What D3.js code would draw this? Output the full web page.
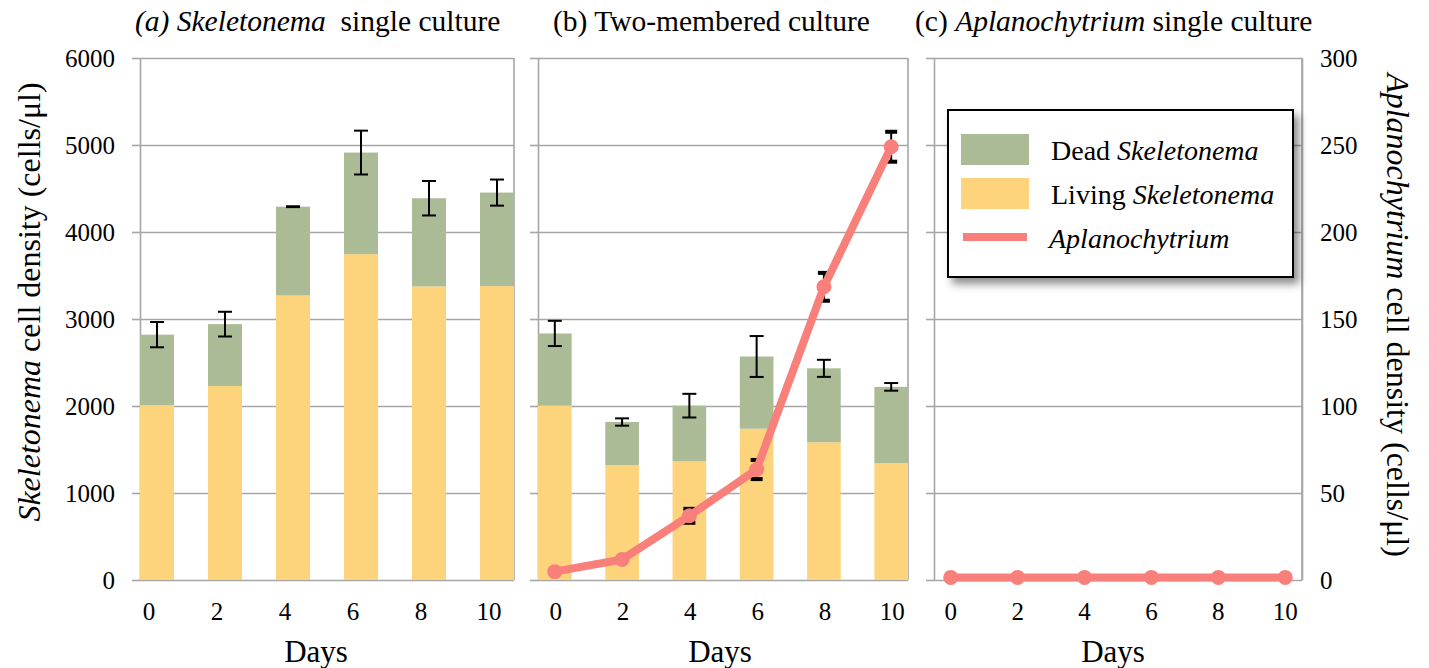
<!DOCTYPE html>
<html>
<head>
<meta charset="utf-8">
<script src="https://cdn.jsdelivr.net/npm/d3@7/dist/d3.min.js"></script>
<style>
  html, body { margin: 0; padding: 0; background: #fff; }
</style>
</head>
<body>
<svg id="chart" width="1429" height="668"></svg>
<script>
// ---------------- data ----------------
const days = [0, 2, 4, 6, 8, 10];
const leftTicks = [0, 1000, 2000, 3000, 4000, 5000, 6000];
const rightTicks = [0, 50, 100, 150, 200, 250, 300];

// (a) Skeletonema single culture
const aLiving = [2010, 2230, 3270, 3745, 3375, 3378];
const aDead   = [810, 711, 1021, 1168, 1013, 1075];
const aErr    = [145, 142, 5, 252, 198, 150];

// (b) Two-membered culture
const bLiving = [2004, 1319, 1363, 1739, 1583, 1343];
const bDead   = [830, 497, 641, 830, 850, 877];
const bErr    = [145, 42, 136, 235, 98, 44];
const bAplano    = [4.8, 11.8, 36.9, 63.5, 168.5, 249];
const bAplanoErr = [0, 0, 4, 5.5, 8, 8.6];

// (c) Aplanochytrium single culture
const cAplano = [1.5, 1.5, 1.5, 1.5, 1.5, 1.5];

const titles = [
  [{t: "(a) Skeletonema", i: true}, {t: "\u00a0 single culture", i: false}],
  [{t: "(b) Two-membered culture", i: false}],
  [{t: "(c) ", i: false}, {t: "Aplanochytrium", i: true}, {t: " single culture", i: false}]
];

// ---------------- styles ----------------
const FONT = "'Liberation Serif', Tinos, 'Times New Roman', Times, 'Nimbus Roman', 'DejaVu Serif', serif";
const C_DEAD = "#abbb96", C_LIVE = "#fdd47b", C_LINE = "#f9807a", C_GRID = "#a6a6a6";

const svg = d3.select("#chart").attr("font-family", FONT);
const yTop = 58, yBot = 580;
const yL = d3.scaleLinear().domain([0, 6000]).range([yBot, yTop]);
const yR = d3.scaleLinear().domain([0, 300]).range([yBot, yTop]);

const defs = svg.append("defs");
const f = defs.append("filter").attr("id", "shadow").attr("x", "-10%").attr("y", "-10%").attr("width", "130%").attr("height", "140%");
f.append("feDropShadow").attr("dx", 5).attr("dy", 6).attr("stdDeviation", 4)
  .attr("flood-color", "#000").attr("flood-opacity", 0.45);

const panels = [
  {x0: 140, x1: 514, living: aLiving, dead: aDead, err: aErr, lab: -8, daysX: 316, titleX: 135},
  {x0: 538, x1: 908, living: bLiving, dead: bDead, err: bErr, line: bAplano, lineErr: bAplanoErr, lab: 1, daysX: 720, titleX: 553},
  {x0: 934, x1: 1302, line: cAplano, lab: 0, daysX: 1113, titleX: 915}
];

function txt(sel) { return sel.attr("font-family", FONT).attr("fill", "#000"); }

panels.forEach((p, pi) => {
  const g = svg.append("g");
  const w = p.x1 - p.x0;
  const x = d3.scaleBand().domain(days).range([p.x0, p.x1]).paddingInner(0.5).paddingOuter(0);
  const bw = x.bandwidth();

  // gridlines
  const grid = g.append("g").attr("transform", `translate(${p.x0},0)`)
    .call(d3.axisLeft(yL).tickValues(leftTicks).tickSize(-w).tickFormat(""));
  grid.select(".domain").remove();
  grid.selectAll("line").attr("stroke", C_GRID).attr("stroke-width", 1.6);

  // left axis with stubs
  const la = g.append("g").attr("transform", `translate(${p.x0},0)`)
    .call(d3.axisLeft(yL).tickValues(leftTicks).tickSize(8).tickSizeOuter(0).tickPadding(17)
      .tickFormat(pi === 0 ? d3.format("d") : ""));
  la.attr("font-family", FONT).attr("font-size", 25);
  la.select(".domain").attr("stroke", C_GRID).attr("stroke-width", 1.6);
  la.selectAll("line").attr("stroke", C_GRID).attr("stroke-width", 1.6);
  txt(la.selectAll("text"));

  // right border
  g.append("line").attr("x1", p.x1).attr("x2", p.x1).attr("y1", yTop).attr("y2", yBot)
    .attr("stroke", C_GRID).attr("stroke-width", 1.6);

  // bars
  if (p.living) {
    g.selectAll(".live").data(days).join("rect")
      .attr("x", d => x(d)).attr("width", bw)
      .attr("y", (d, i) => yL(p.living[i]))
      .attr("height", (d, i) => yL(0) - yL(p.living[i]))
      .attr("fill", C_LIVE);
    g.selectAll(".dead").data(days).join("rect")
      .attr("x", d => x(d)).attr("width", bw)
      .attr("y", (d, i) => yL(p.living[i] + p.dead[i]))
      .attr("height", (d, i) => yL(p.living[i]) - yL(p.living[i] + p.dead[i]))
      .attr("fill", C_DEAD);
    // error bars
    const eb = g.append("g").attr("stroke", "#000").attr("stroke-width", 2);
    days.forEach((d, i) => {
      const cx = x(d) + bw / 2, tot = p.living[i] + p.dead[i];
      const hi = yL(tot + p.err[i]), lo = yL(tot - p.err[i]);
      eb.append("line").attr("x1", cx).attr("x2", cx).attr("y1", hi).attr("y2", lo);
      eb.append("line").attr("x1", cx - 7).attr("x2", cx + 7).attr("y1", hi).attr("y2", hi);
      eb.append("line").attr("x1", cx - 7).attr("x2", cx + 7).attr("y1", lo).attr("y2", lo);
    });
  }

  // Aplanochytrium line
  if (p.line) {
    if (p.lineErr) {
      const le = g.append("g").attr("stroke", "#000");
      days.forEach((d, i) => {
        if (!p.lineErr[i]) return;
        const cx = x(d) + bw / 2;
        const hi = yR(p.line[i] + p.lineErr[i]), lo = yR(p.line[i] - p.lineErr[i]);
        le.append("line").attr("x1", cx).attr("x2", cx).attr("y1", hi).attr("y2", lo).attr("stroke-width", 2);
        le.append("line").attr("x1", cx - 6).attr("x2", cx + 6).attr("y1", hi).attr("y2", hi).attr("stroke-width", 4);
        le.append("line").attr("x1", cx - 6).attr("x2", cx + 6).attr("y1", lo).attr("y2", lo).attr("stroke-width", 4);
      });
    }
    const line = d3.line().x((d, i) => x(days[i]) + bw / 2).y(d => yR(d));
    g.append("path").datum(p.line).attr("d", line)
      .attr("fill", "none").attr("stroke", C_LINE).attr("stroke-width", 8).attr("stroke-linejoin", "round");
    g.selectAll(".pt").data(p.line).join("circle")
      .attr("cx", (d, i) => x(days[i]) + bw / 2).attr("cy", d => yR(d)).attr("r", 7.5)
      .attr("fill", C_LINE);
  }

  // x tick labels
  txt(g.selectAll(".xl").data(days).join("text"))
    .attr("x", d => x(d) + bw / 2 + p.lab).attr("y", 620)
    .attr("text-anchor", "middle").attr("font-size", 25).text(d => d);

  // Days label
  txt(g.append("text")).attr("x", p.daysX).attr("y", 662).attr("text-anchor", "middle")
    .attr("font-size", 31).text("Days");

  // title
  const t = txt(g.append("text")).attr("x", p.titleX).attr("y", 31).attr("font-size", 29.5);
  titles[pi].forEach(s => t.append("tspan").attr("font-style", s.i ? "italic" : "normal").text(s.t));

  // right axis (panel c)
  if (pi === 2) {
    const ra = g.append("g").attr("transform", `translate(${p.x1},0)`)
      .call(d3.axisRight(yR).tickValues(rightTicks).tickSize(0).tickPadding(18));
    ra.attr("font-family", FONT).attr("font-size", 25);
    ra.select(".domain").attr("stroke", C_GRID).attr("stroke-width", 1.6);
    txt(ra.selectAll("text"));
  }
});

// left y-axis title
const ylt = txt(svg.append("text")).attr("transform", "translate(40,302) rotate(-90)")
  .attr("text-anchor", "middle").attr("font-size", 32);
ylt.append("tspan").attr("font-style", "italic").text("Skeletonema");
ylt.append("tspan").text(" cell density (cells/\u03bcl)");

// right y-axis title
const yrt = txt(svg.append("text")).attr("transform", "translate(1387,315) rotate(90)")
  .attr("text-anchor", "middle").attr("font-size", 32);
yrt.append("tspan").attr("font-style", "italic").text("Aplanochytrium");
yrt.append("tspan").text(" cell density (cells/\u03bcl)");

// legend
const lg = svg.append("g");
lg.append("rect").attr("x", 948).attr("y", 110).attr("width", 345).attr("height", 167)
  .attr("fill", "#fff").attr("stroke", "#000").attr("stroke-width", 2).attr("filter", "url(#shadow)");
const legendItems = [
  {type: "rect", color: C_DEAD, parts: [{t: "Dead ", i: false}, {t: "Skeletonema", i: true}], y: 134, ty: 160, tx: 1051},
  {type: "rect", color: C_LIVE, parts: [{t: "Living ", i: false}, {t: "Skeletonema", i: true}], y: 178, ty: 204, tx: 1051},
  {type: "line", color: C_LINE, parts: [{t: "Aplanochytrium", i: true}], y: 237, ty: 248, tx: 1049}
];
legendItems.forEach(it => {
  if (it.type === "rect") {
    lg.append("rect").attr("x", 961).attr("y", it.y).attr("width", 68).attr("height", 31).attr("fill", it.color);
  } else {
    lg.append("line").attr("x1", 963).attr("x2", 1027).attr("y1", it.y).attr("y2", it.y)
      .attr("stroke", it.color).attr("stroke-width", 8);
  }
  const tt = txt(lg.append("text")).attr("x", it.tx).attr("y", it.ty).attr("font-size", 28);
  it.parts.forEach(s => tt.append("tspan").attr("font-style", s.i ? "italic" : "normal").text(s.t));
});
</script>
</body>
</html>
